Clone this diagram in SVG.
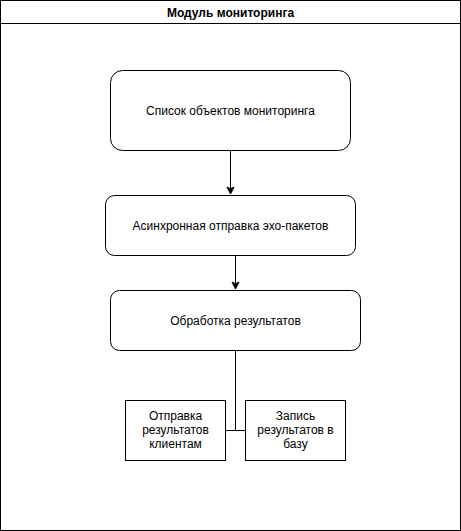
<svg xmlns="http://www.w3.org/2000/svg" width="461" height="531" viewBox="0 0 461 531">
<style>
.b{fill:#fff;stroke:#000;stroke-width:1}
.t{font-family:"Liberation Sans",Arial,sans-serif;font-size:12px;fill:#000;text-anchor:middle}
.c{fill:none;stroke:#000;stroke-width:1}
</style>
<defs>
<marker id="a" markerWidth="10" markerHeight="10" viewBox="0 0 10 10" refX="8" refY="5" orient="auto" markerUnits="userSpaceOnUse">
<path d="M1,1.5 L8,5 L1,8.5 L2.8,5 Z" fill="#000" stroke="#000"/>
</marker>
</defs>
<rect width="461" height="531" fill="#fff"/>
<g id="container">
<rect class="b" x="0.5" y="0.5" width="460" height="530"/>
<line class="c" x1="0.5" y1="23.5" x2="460.5" y2="23.5"/>
<text class="t" x="230.5" y="17" font-weight="bold">Модуль мониторинга</text>
</g>
<g id="connectors">
<line class="c" x1="230.5" y1="150" x2="230.5" y2="194" marker-end="url(#a)"/>
<line class="c" x1="235.5" y1="255" x2="235.5" y2="289" marker-end="url(#a)"/>
<polyline class="c" points="235.5,350 235.5,430.5"/>
<line class="c" x1="225" y1="430.5" x2="245" y2="430.5"/>
</g>
<g id="n1">
<rect class="b" x="110.5" y="70.5" width="240" height="80" rx="12"/>
<text class="t" x="230.5" y="114.5">Список объектов мониторинга</text>
</g>
<g id="n2">
<rect class="b" x="105.5" y="195.5" width="250" height="60" rx="9"/>
<text class="t" x="230.5" y="229.5">Асинхронная отправка эхо-пакетов</text>
</g>
<g id="n3">
<rect class="b" x="110.5" y="290.5" width="250" height="60" rx="9"/>
<text class="t" x="235.5" y="324.5">Обработка результатов</text>
</g>
<g id="n4">
<rect class="b" x="125.5" y="400.5" width="100" height="60"/>
<text class="t" x="175.5" y="420">Отправка</text>
<text class="t" x="175.5" y="434">результатов</text>
<text class="t" x="175.5" y="448">клиентам</text>
</g>
<g id="n5">
<rect class="b" x="245.5" y="400.5" width="100" height="60"/>
<text class="t" x="295.5" y="420">Запись</text>
<text class="t" x="295.5" y="434">результатов в</text>
<text class="t" x="295.5" y="448">базу</text>
</g>
</svg>
